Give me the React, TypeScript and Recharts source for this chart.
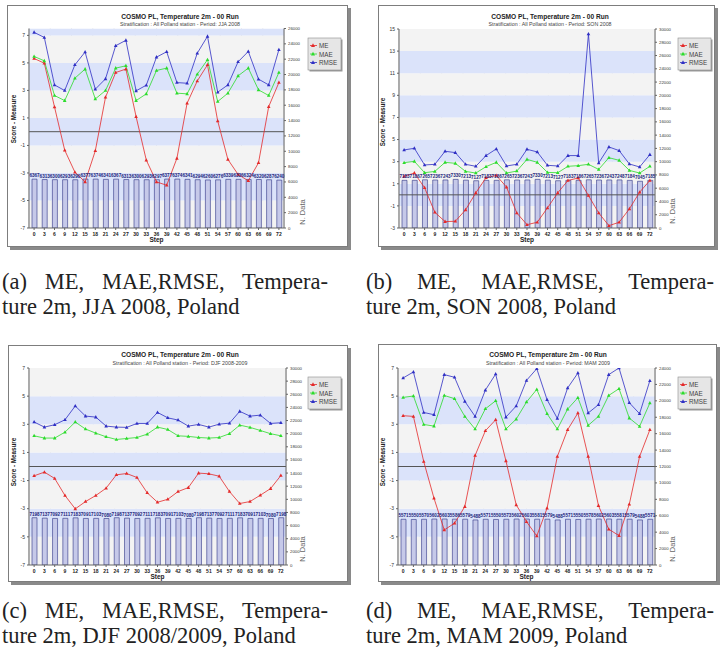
import React from 'react';
import {
  ComposedChart,
  Line,
  Bar,
  XAxis,
  YAxis,
  CartesianGrid,
  ReferenceArea,
  ReferenceLine,
  LabelList,
} from 'recharts';

// ---------- data ----------
const STEPS = [0, 3, 6, 9, 12, 15, 18, 21, 24, 27, 30, 33, 36, 39, 42, 45, 48, 51, 54, 57, 60, 63, 66, 69, 72];

// (a) JJA 2008
const ME_A = [5.32, 4.98, 1.8, -1.34, -2.94, -3.65, -1.39, 2.5, 4.3, 4.55, 1.09, -2.07, -3.65, -3.89, -1.94, 2.07, 3.69, 4.86, 0.78, -2.02, -3.11, -3.57, -2.26, 1.82, 3.57];
const MAE_A = [5.47, 5.15, 2.63, 2.26, 3.89, 4.55, 2.38, 2.99, 4.62, 4.79, 2.26, 2.75, 4.45, 4.62, 2.8, 2.75, 4.18, 5.23, 2.19, 2.8, 4.06, 4.62, 3.04, 2.63, 4.3];
const RMSE_A = [7.22, 6.85, 3.4, 2.99, 4.86, 5.79, 3.09, 3.84, 6.25, 6.64, 2.97, 3.38, 5.42, 5.81, 3.57, 3.52, 5.71, 6.93, 2.87, 3.4, 5.08, 5.83, 3.82, 3.4, 5.96];
const N_A = [6367, 6313, 6300, 6293, 6290, 6377, 6374, 6341, 6367, 6313, 6300, 6293, 6297, 6377, 6374, 6341, 6294, 6260, 6276, 6339, 6336, 6324, 6320, 6287, 6240];

// (b) SON 2008
const ME_B = [1.67, 1.97, 0.64, -1.58, -2.42, -2.39, -1.36, 0.18, 1.55, 1.76, 0.7, -1.64, -2.7, -2.48, -1.18, 0.18, 1.3, 1.52, -0.06, -1.64, -2.79, -2.48, -1.27, 0.24, 1.3];
const MAE_B = [2.91, 3.03, 2.0, 2.12, 2.94, 2.85, 2.12, 1.97, 2.55, 2.94, 1.97, 2.15, 3.21, 2.94, 2.03, 2.0, 2.58, 2.64, 2.76, 2.3, 3.36, 3.12, 2.21, 1.97, 2.58];
const RMSE_B = [4.06, 4.21, 2.7, 2.76, 3.94, 3.82, 2.76, 2.58, 3.55, 4.15, 2.61, 2.76, 4.12, 3.88, 2.67, 2.61, 3.55, 3.55, 14.55, 2.88, 4.33, 4.0, 2.79, 2.52, 3.64];
const N_B = [7183, 7186, 7265, 7236, 7243, 7330, 7213, 7127, 7183, 7186, 7265, 7236, 7243, 7330, 7213, 7127, 7183, 7186, 7265, 7236, 7243, 7248, 7184, 7045, 7185];

// (c) DJF 2008/2009
const ME_C = [-0.66, -0.4, -0.85, -2.06, -3.01, -2.49, -2.06, -1.54, -0.59, -0.5, -0.78, -1.87, -2.54, -2.33, -1.78, -1.5, -0.47, -0.52, -0.69, -1.78, -2.63, -2.49, -2.04, -1.57, -0.64];
const MAE_C = [2.18, 2.02, 2.02, 2.44, 3.16, 2.66, 2.37, 2.11, 1.92, 1.99, 2.06, 2.3, 2.8, 2.63, 2.18, 2.14, 2.06, 2.02, 2.06, 2.33, 2.94, 2.78, 2.56, 2.33, 2.18];
const RMSE_C = [3.16, 2.8, 2.97, 3.32, 4.3, 3.58, 3.51, 2.87, 2.8, 2.78, 3.06, 3.06, 3.84, 3.46, 3.3, 2.87, 2.99, 2.8, 3.01, 3.08, 3.92, 3.58, 3.65, 3.06, 3.11];
const N_C = [7198, 7137, 7092, 7111, 7183, 7091, 7103, 7080, 7198, 7137, 7092, 7111, 7183, 7091, 7103, 7080, 7198, 7137, 7092, 7111, 7183, 7091, 7103, 7080, 7198];

// (d) MAM 2009
const ME_D = [3.61, 3.56, 0.36, -2.25, -4.51, -4.03, -2.85, 0.78, 2.54, 3.32, 0.4, -2.73, -3.92, -4.94, -2.97, 0.71, 2.61, 3.8, 0.71, -2.78, -4.46, -4.91, -2.68, 0.71, 2.61];
const MAE_D = [4.91, 5.01, 2.99, 2.87, 5.05, 4.82, 3.56, 2.66, 4.1, 4.67, 2.66, 3.37, 4.58, 5.48, 3.75, 2.66, 4.08, 4.89, 2.92, 3.56, 5.05, 5.53, 3.44, 2.85, 4.51];
const RMSE_D = [6.29, 6.72, 3.84, 3.68, 6.53, 6.34, 4.63, 3.56, 5.43, 6.57, 3.51, 4.3, 6.12, 6.95, 4.75, 3.42, 5.58, 6.64, 3.8, 4.39, 6.53, 7.0, 4.53, 3.75, 6.1];
const N_D = [5571, 5550, 5570, 5602, 5603, 5586, 5579, 5488, 5571, 5550, 5573, 5602, 5603, 5581, 5579, 5488, 5571, 5550, 5578, 5602, 5603, 5581, 5579, 5488, 5571];

const SERIES_NAMES = ['ME', 'MAE', 'RMSE'];
const TITLE = 'COSMO PL, Temperature 2m - 00 Run';
const SUBTITLE_PREFIX = 'Stratification : All Polland station  - Period: ';
const PERIODS = ['JJA 2008', 'SON 2008', 'DJF 2008-2009', 'MAM 2009'];
const CAPTION_LINE1 = ['(a) ME, MAE,RMSE, Tempera-', '(b) ME, MAE,RMSE, Tempera-', '(c) ME, MAE,RMSE, Tempera-', '(d) ME, MAE,RMSE, Tempera-'];
const CAPTION_LINE2 = ['ture 2m, JJA 2008, Poland', 'ture 2m, SON 2008, Poland', 'ture 2m, DJF 2008/2009, Poland', 'ture 2m, MAM 2009, Poland'];
const LEFT_TICKS_A = [-7, -5, -3, -1, 1, 3, 5, 7];
const LEFT_TICKS_B = [-3, -1, 1, 3, 5, 7, 9, 11, 13, 15];
const RIGHT_MAX = [26000, 30000, 30000, 24000];

// ---------- styles ----------
const COLORS = { me: '#e42a2a', mae: '#2bdc2b', rmse: '#2f2fc4' };
const BAND_GRAY = '#f3f3f3';
const BAND_BLUE = '#dbe3fa';

type Box = { x: number; y: number; w: number; h: number };
type PanelCfg = {
  me: number[]; mae: number[]; rmse: number[]; n: number[];
  leftDomain: [number, number]; leftTicks: number[]; rightMax: number;
  frame: Box; plot: Box; period: string;
  titleX: number; titleY: number;
  scoreLabel: { x: number; y: number };
  nLabel: { x: number; y: number };
  legend: { x: number; y: number };
  caption: { x: number; top: number; w1: number; l1: string; l2: string };
};

const PANELS: PanelCfg[] = [
  {
    me: ME_A, mae: MAE_A, rmse: RMSE_A, n: N_A,
    leftDomain: [-7, 7.5], leftTicks: LEFT_TICKS_A, rightMax: RIGHT_MAX[0],
    frame: { x: 7, y: 5, w: 341, h: 242 }, plot: { x: 29, y: 28.5, w: 255, h: 199.5 },
    period: PERIODS[0], titleX: 180, titleY: 16,
    scoreLabel: { x: 13, y: 119 }, nLabel: { x: 302, y: 212 }, legend: { x: 308, y: 38 },
    caption: { x: 2, top: 270, w1: 326, l1: CAPTION_LINE1[0], l2: CAPTION_LINE2[0] },
  },
  {
    me: ME_B, mae: MAE_B, rmse: RMSE_B, n: N_B,
    leftDomain: [-3, 15], leftTicks: LEFT_TICKS_B, rightMax: RIGHT_MAX[1],
    frame: { x: 378, y: 5, w: 337, h: 242 }, plot: { x: 399, y: 29, w: 256, h: 199 },
    period: PERIODS[1], titleX: 550, titleY: 16,
    scoreLabel: { x: 382, y: 122 }, nLabel: { x: 672, y: 211 }, legend: { x: 678, y: 38 },
    caption: { x: 366, top: 270, w1: 348, l1: CAPTION_LINE1[1], l2: CAPTION_LINE2[1] },
  },
  {
    me: ME_C, mae: MAE_C, rmse: RMSE_C, n: N_C,
    leftDomain: [-7, 7], leftTicks: LEFT_TICKS_A, rightMax: RIGHT_MAX[2],
    frame: { x: 8, y: 345, w: 340, h: 237 }, plot: { x: 29, y: 368, w: 257, h: 197 },
    period: PERIODS[2], titleX: 180, titleY: 354.5,
    scoreLabel: { x: 13, y: 462 }, nLabel: { x: 302, y: 549 }, legend: { x: 308, y: 377 },
    caption: { x: 2, top: 599, w1: 326, l1: CAPTION_LINE1[2], l2: CAPTION_LINE2[2] },
  },
  {
    me: ME_D, mae: MAE_D, rmse: RMSE_D, n: N_D,
    leftDomain: [-7, 7], leftTicks: LEFT_TICKS_A, rightMax: RIGHT_MAX[3],
    frame: { x: 378, y: 344, w: 339, h: 238 }, plot: { x: 398, y: 368, w: 257, h: 197 },
    period: PERIODS[3], titleX: 548, titleY: 354.5,
    scoreLabel: { x: 382, y: 462 }, nLabel: { x: 672, y: 549 }, legend: { x: 678, y: 377 },
    caption: { x: 366, top: 599, w1: 348, l1: CAPTION_LINE1[3], l2: CAPTION_LINE2[3] },
  },
];

const GRID_TICKS = STEPS.slice(1).map((_, i) => i + 1);
const LEFT_W = 16;
const RIGHT_W = 28;
const XAX_H = 14;

const triangleDot = (color: string) => (props: any) => {
  const { cx, cy, index } = props;
  if (cx == null || cy == null) return <g key={`e-${index}`} />;
  return (
    <polygon
      key={`t-${index}`}
      points={`${cx},${cy - 2} ${cx - 1.8},${cy + 1.3} ${cx + 1.8},${cy + 1.3}`}
      fill={color}
    />
  );
};

function bandsFor(domain: [number, number], ticks: number[]) {
  const lo = ticks[0];
  const out: { y1: number; y2: number; fill: string }[] = [];
  for (let v = lo; v < domain[1]; v += 2) {
    const y2 = Math.min(v + 2, domain[1]);
    const blue = (((v + 5) % 4) + 4) % 4 === 0;
    out.push({ y1: v, y2, fill: blue ? BAND_BLUE : BAND_GRAY });
  }
  return out;
}

function rightTicks(max: number) {
  const t: number[] = [];
  for (let v = 0; v <= max; v += 2000) t.push(v);
  return t;
}

function PanelChart({ p }: { p: PanelCfg }) {
  const data = STEPS.map((s, i) => ({ step: s, me: p.me[i], mae: p.mae[i], rmse: p.rmse[i], n: p.n[i] }));
  const L = p.plot.x - p.frame.x;
  const T = p.plot.y - p.frame.y;
  const margin = {
    top: T,
    left: L - LEFT_W,
    right: p.frame.w - L - p.plot.w - RIGHT_W,
    bottom: p.frame.h - T - p.plot.h - XAX_H,
  };
  const bands = bandsFor(p.leftDomain, p.leftTicks);
  return (
    <div style={{ position: 'absolute', left: p.frame.x, top: p.frame.y }}>
      <ComposedChart width={p.frame.w} height={p.frame.h} data={data} margin={margin}>
        <XAxis
          xAxisId="cat"
          dataKey="step"
          type="category"
          interval={0}
          height={XAX_H}
          tickSize={2}
          tick={{ fontSize: 5, fontWeight: 'bold', fill: '#222', fontFamily: 'Liberation Sans, Arial' }}
          axisLine={{ stroke: '#666' }}
          tickLine={{ stroke: '#666' }}
          label={{ value: 'Step', position: 'insideBottom', offset: 0, fontSize: 6.5, fontWeight: 'bold', fill: '#222', fontFamily: 'Liberation Sans, Arial' }}
        />
        <XAxis xAxisId="grid" type="number" domain={[0, 25]} ticks={GRID_TICKS} hide allowDataOverflow />
        <YAxis
          yAxisId="left"
          domain={p.leftDomain}
          ticks={p.leftTicks}
          allowDataOverflow
          width={LEFT_W}
          tickSize={2}
          tick={{ fontSize: 5, fill: '#333', fontFamily: 'Liberation Sans, Arial' }}
          axisLine={{ stroke: '#666' }}
          tickLine={{ stroke: '#666' }}
        />
        <YAxis
          yAxisId="right"
          orientation="right"
          domain={[0, p.rightMax]}
          ticks={rightTicks(p.rightMax)}
          allowDataOverflow
          width={RIGHT_W}
          tickSize={2}
          tick={{ fontSize: 4.3, fill: '#333', fontFamily: 'Liberation Sans, Arial' }}
          axisLine={{ stroke: '#666' }}
          tickLine={{ stroke: '#666' }}
        />
        {bands.map((b, i) => (
          <ReferenceArea
            key={`band-${i}`}
            xAxisId="cat"
            yAxisId="left"
            y1={b.y1}
            y2={b.y2}
            fill={b.fill}
            fillOpacity={1}
            stroke="none"
            ifOverflow="hidden"
          />
        ))}
        <CartesianGrid xAxisId="grid" yAxisId="left" horizontal={false} stroke="#d4d4d4" strokeWidth={0.8} />
        <ReferenceLine xAxisId="cat" yAxisId="left" y={0} stroke="#555" strokeWidth={1} />
        <Bar
          xAxisId="cat"
          yAxisId="right"
          dataKey="n"
          barSize={5}
          fill="#c6c9e9"
          stroke="#2d3385"
          strokeWidth={0.6}
          isAnimationActive={false}
          legendType="none"
        >
          <LabelList
            dataKey="n"
            position="top"
            offset={2}
            style={{ fontSize: 4.6, fill: '#1b1f7a', fontWeight: 'bold', fontFamily: 'Liberation Sans, Arial' }}
          />
        </Bar>
        <Line xAxisId="cat" yAxisId="left" dataKey="me" stroke={COLORS.me} strokeWidth={0.8} dot={triangleDot(COLORS.me)} activeDot={false} isAnimationActive={false} />
        <Line xAxisId="cat" yAxisId="left" dataKey="mae" stroke={COLORS.mae} strokeWidth={0.8} dot={triangleDot(COLORS.mae)} activeDot={false} isAnimationActive={false} />
        <Line xAxisId="cat" yAxisId="left" dataKey="rmse" stroke={COLORS.rmse} strokeWidth={0.8} dot={triangleDot(COLORS.rmse)} activeDot={false} isAnimationActive={false} />
      </ComposedChart>
    </div>
  );
}

function Overlay() {
  const sans = 'Liberation Sans, Arial, sans-serif';
  const seriesColors = [COLORS.me, COLORS.mae, COLORS.rmse];
  return (
    <svg width={720} height={656} style={{ position: 'absolute', left: 0, top: 0, pointerEvents: 'none' }}>
      {PANELS.map((p, k) => (
        <g key={`ov-${k}`}>
          <text x={p.titleX} y={p.titleY} textAnchor="middle" dominantBaseline="central" fontFamily={sans} fontSize={6.6} fontWeight="bold" fill="#222">
            {TITLE}
          </text>
          <text x={p.titleX} y={p.titleY + 8.3} textAnchor="middle" dominantBaseline="central" fontFamily={sans} fontSize={5.3} fill="#444">
            {SUBTITLE_PREFIX + p.period}
          </text>
          <text
            x={p.scoreLabel.x}
            y={p.scoreLabel.y}
            textAnchor="middle"
            dominantBaseline="central"
            transform={`rotate(-90 ${p.scoreLabel.x} ${p.scoreLabel.y})`}
            fontFamily={sans}
            fontSize={6.3}
            fontWeight="bold"
            fill="#222"
          >
            Score - Measure
          </text>
          <text
            x={p.nLabel.x}
            y={p.nLabel.y}
            textAnchor="middle"
            dominantBaseline="central"
            transform={`rotate(-90 ${p.nLabel.x} ${p.nLabel.y})`}
            fontFamily={sans}
            fontSize={7.5}
            fill="#666"
          >
            N. Data
          </text>
          <rect x={p.legend.x + 1.5} y={p.legend.y + 1.5} width={33} height={32} fill="#9a9a9a" />
          <rect x={p.legend.x} y={p.legend.y} width={33} height={32} fill="#e6e6e6" stroke="#8c8c8c" strokeWidth={0.6} />
          {SERIES_NAMES.map((nm, i) => {
            const cy = p.legend.y + 7.5 + i * 8.5;
            const cx = p.legend.x + 5;
            return (
              <g key={`lg-${k}-${i}`}>
                <line x1={p.legend.x + 2} x2={p.legend.x + 9} y1={cy} y2={cy} stroke={seriesColors[i]} strokeWidth={0.8} />
                <polygon points={`${cx},${cy - 2.2} ${cx - 2},${cy + 1.4} ${cx + 2},${cy + 1.4}`} fill={seriesColors[i]} />
                <text x={p.legend.x + 11} y={cy} dominantBaseline="central" fontFamily={sans} fontSize={6.3} fill="#444">
                  {nm}
                </text>
              </g>
            );
          })}
        </g>
      ))}
    </svg>
  );
}

function Captions() {
  return (
    <>
      {PANELS.map((p, k) => (
        <div
          key={`cap-${k}`}
          style={{
            position: 'absolute',
            left: p.caption.x,
            top: p.caption.top,
            width: p.caption.w1,
            fontFamily: 'Liberation Serif, Times New Roman, serif',
            fontSize: 22.5,
            lineHeight: '24.5px',
            color: '#222',
            whiteSpace: 'nowrap',
          }}
        >
          <div style={{ textAlign: 'justify', textAlignLast: 'justify', width: p.caption.w1 }}>{p.caption.l1}</div>
          <div>{p.caption.l2}</div>
        </div>
      ))}
    </>
  );
}

export default function App() {
  return (
    <div style={{ position: 'absolute', left: 0, top: 0, width: 720, height: 656, background: '#fff', overflow: 'hidden' }}>
      {PANELS.map((p, k) => (
        <div
          key={`frame-${k}`}
          style={{
            position: 'absolute',
            left: p.frame.x,
            top: p.frame.y,
            width: p.frame.w - 2,
            height: p.frame.h - 2,
            border: '1px solid #7d7d7d',
            boxShadow: '3px 3px 0 #8a8a8a',
            background: '#fff',
          }}
        />
      ))}
      {PANELS.map((p, k) => (
        <PanelChart key={`chart-${k}`} p={p} />
      ))}
      <Overlay />
      <Captions />
    </div>
  );
}
